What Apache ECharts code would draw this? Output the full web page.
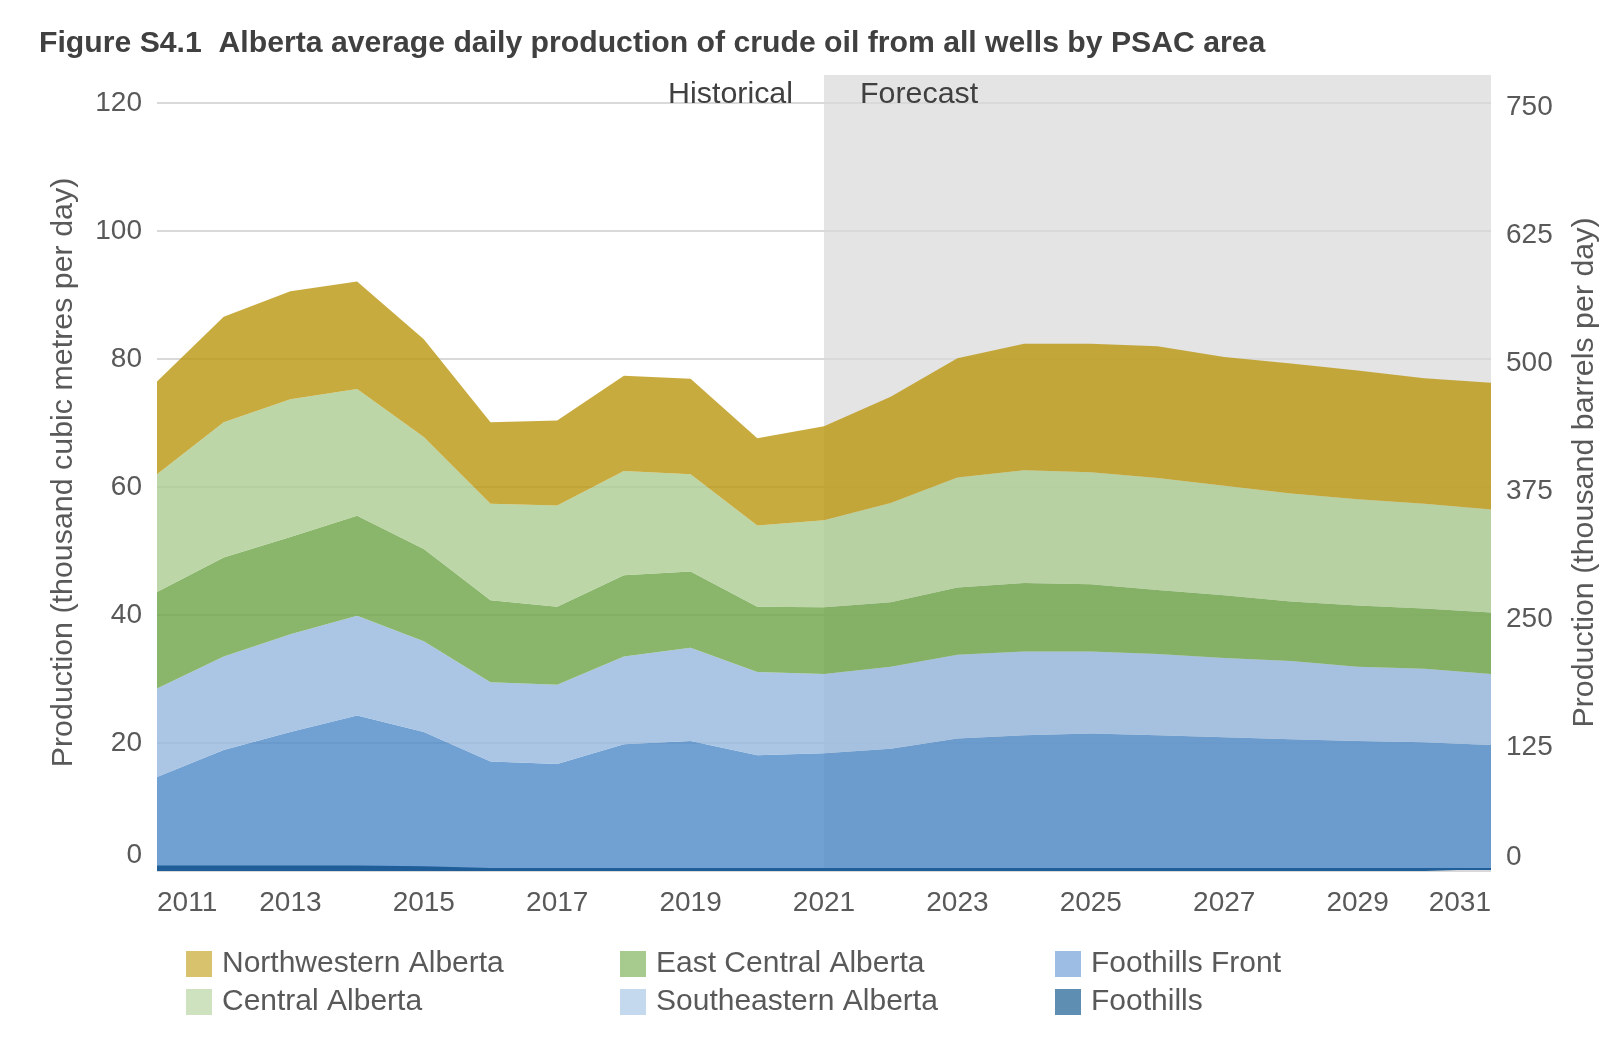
<!DOCTYPE html>
<html>
<head>
<meta charset="utf-8">
<script src="https://cdn.jsdelivr.net/npm/echarts@6/dist/echarts.min.js"></script>
<style>
  html, body { margin: 0; padding: 0; background: #fff; }
  #chart { width: 1617px; height: 1037px; }
</style>
</head>
<body>
<div id="chart"></div>
<script>
// ---- Data (thousand cubic metres per day) ----
const years = ['2011','2012','2013','2014','2015','2016','2017','2018','2019','2020','2021',
               '2022','2023','2024','2025','2026','2027','2028','2029','2030','2031'];
const foothills      = [0.7,0.7,0.7,0.7,0.6,0.3,0.3,0.3,0.3,0.3,0.3,0.3,0.3,0.3,0.3,0.3,0.3,0.3,0.3,0.3,0.3];
const foothillsFront = [14.0,18.2,21.0,23.6,21.1,16.8,16.4,19.5,20.0,17.8,18.1,18.8,20.4,20.9,21.2,20.9,20.6,20.3,20.0,19.8,19.4];
const southeastern   = [13.8,14.6,15.3,15.6,14.2,12.4,12.4,13.7,14.6,13.0,12.4,12.8,13.1,13.1,12.8,12.7,12.4,12.2,11.6,11.5,11.1];
const eastCentral    = [15.1,15.5,15.2,15.6,14.4,12.8,12.2,12.7,11.9,10.2,10.4,10.1,10.5,10.7,10.5,10.0,9.8,9.3,9.6,9.4,9.6];
const central        = [18.4,21.1,21.5,19.8,17.5,15.1,15.8,16.3,15.2,12.7,13.6,15.5,17.2,17.6,17.5,17.5,17.1,16.9,16.6,16.4,16.1];
const northwestern   = [14.5,16.5,16.9,16.8,15.3,12.7,13.3,14.9,14.9,13.6,14.7,16.6,18.6,19.8,20.1,20.6,20.1,20.3,20.1,19.6,19.8];

const forecastStart = '2021';
const forecastEnd = '2031';

const FONT = "'Liberation Sans', Arial, sans-serif";
const GREY = '#595959';

const seriesDefs = [
  { name: 'Foothills',           data: foothills,      color: '#1F5E98', legend: '#5E8EB2', opacity: 1,    line: 2 },
  { name: 'Foothills Front',     data: foothillsFront, color: '#528CC9', legend: '#9EBDE4', opacity: 0.82, line: 0 },
  { name: 'Southeastern Alberta',data: southeastern,   color: '#99B9DE', legend: '#C4D8EE', opacity: 0.82, line: 0 },
  { name: 'East Central Alberta',data: eastCentral,    color: '#70A64C', legend: '#A7CB8F', opacity: 0.82, line: 0 },
  { name: 'Central Alberta',     data: central,        color: '#ADCD94', legend: '#CFE2C0', opacity: 0.82, line: 0 },
  { name: 'Northwestern Alberta',data: northwestern,   color: '#BC9915', legend: '#D8C26E', opacity: 0.82, line: 0 }
];
const legendMap = {};
seriesDefs.forEach(s => legendMap[s.name] = s.legend);

function legendCol(names, left) {
  return {
    orient: 'vertical',
    left: left,
    top: 949,
    padding: 0,
    itemWidth: 26,
    itemHeight: 26,
    itemGap: 8,
    icon: 'rect',
    selectedMode: false,
    textStyle: { fontFamily: FONT, fontSize: 30, color: GREY, padding: [0, 0, 0, 5], lineHeight: 30 },
    data: names.map(n => ({ name: n, itemStyle: { color: legendMap[n], opacity: 1 } }))
  };
}

const zeroRichL = { z: { fontFamily: FONT, fontSize: 28, color: GREY, padding: [0, 0, 32, 0] } };
const zeroRichR = { z: { fontFamily: FONT, fontSize: 28, color: GREY, padding: [0, 0, 36, 0] } };

const chart = echarts.init(document.getElementById('chart'), null, { renderer: 'canvas' });
const option = {
  backgroundColor: '#ffffff',
  animation: false,
  title: {
    text: 'Figure S4.1  Alberta average daily production of crude oil from all wells by PSAC area',
    left: 39, top: 29, padding: 0,
    textStyle: { fontFamily: FONT, fontSize: 30.2, fontWeight: 'bold', color: '#404040' }
  },
  legend: [
    legendCol(['Northwestern Alberta', 'Central Alberta'], 186),
    legendCol(['East Central Alberta', 'Southeastern Alberta'], 620),
    legendCol(['Foothills Front', 'Foothills'], 1055)
  ],
  grid: { left: 157, right: 126, top: 103, bottom: 166, containLabel: false },
  xAxis: {
    type: 'category',
    data: years,
    boundaryGap: false,
    axisLine: { show: false },
    axisTick: { show: false },
    axisLabel: {
      interval: 1, margin: 18,
      fontFamily: FONT, fontSize: 28, color: GREY,
      alignMinLabel: 'left', alignMaxLabel: 'right'
    },
    splitLine: { show: false }
  },
  yAxis: [
    {
      type: 'value', min: 0, max: 120, interval: 20, position: 'left',
      name: 'Production (thousand cubic metres per day)',
      nameLocation: 'middle', nameGap: 78,
      nameTextStyle: { fontFamily: FONT, fontSize: 30.4, color: GREY, padding: [0, 0, 0, 29] },
      axisLine: { show: false }, axisTick: { show: false },
      axisLabel: {
        margin: 15, fontFamily: FONT, fontSize: 28, color: GREY,
        formatter: v => v === 0 ? '{z|0}' : String(v), rich: zeroRichL
      },
      splitLine: { show: true, lineStyle: { color: '#D9D9D9', width: 2 } }
    },
    {
      type: 'value', min: 0, max: 750, interval: 125, position: 'right',
      name: 'Production (thousand barrels per day)',
      nameLocation: 'middle', nameGap: 79,
      nameTextStyle: { fontFamily: FONT, fontSize: 30.4, color: GREY, padding: [0, 0, 0, 29] },
      axisLine: { show: false }, axisTick: { show: false },
      axisLabel: {
        margin: 15, fontFamily: FONT, fontSize: 28, color: GREY,
        padding: [8, 0, 0, 0],
        formatter: v => v === 0 ? '{z|0}' : String(v), rich: zeroRichR
      },
      splitLine: { show: false }
    }
  ],
  series: seriesDefs.map(s => ({
    name: s.name,
    type: 'line',
    stack: 'total',
    data: s.data,
    yAxisIndex: 0,
    showSymbol: false,
    symbol: 'none',
    lineStyle: { width: s.line, color: s.color },
    itemStyle: { color: s.color },
    areaStyle: { color: s.color, opacity: s.opacity },
    emphasis: { disabled: true }
  }))
};
chart.setOption(option);

// Forecast shading and labels, positioned via the chart's own scales
const xs = chart.convertToPixel({ xAxisIndex: 0 }, forecastStart);
const xe = chart.convertToPixel({ xAxisIndex: 0 }, forecastEnd);
const yTop = chart.convertToPixel({ yAxisIndex: 0 }, 120);
const yBot = chart.convertToPixel({ yAxisIndex: 0 }, 0);
chart.setOption({
  graphic: [
    {
      type: 'rect', z: -10, silent: true,
      shape: { x: xs, y: yTop - 28, width: xe - xs, height: yBot - yTop + 28 },
      style: { fill: '#E4E4E4' }
    },
    {
      type: 'text', z: 10, silent: true,
      x: xs - 31, y: yTop - 8,
      style: { text: 'Historical', font: "30.4px 'Liberation Sans', Arial, sans-serif", fill: '#404040', align: 'right', verticalAlign: 'middle' }
    },
    {
      type: 'text', z: 10, silent: true,
      x: xs + 36, y: yTop - 8,
      style: { text: 'Forecast', font: "30.4px 'Liberation Sans', Arial, sans-serif", fill: '#404040', align: 'left', verticalAlign: 'middle' }
    }
  ]
});
</script>
</body>
</html>
